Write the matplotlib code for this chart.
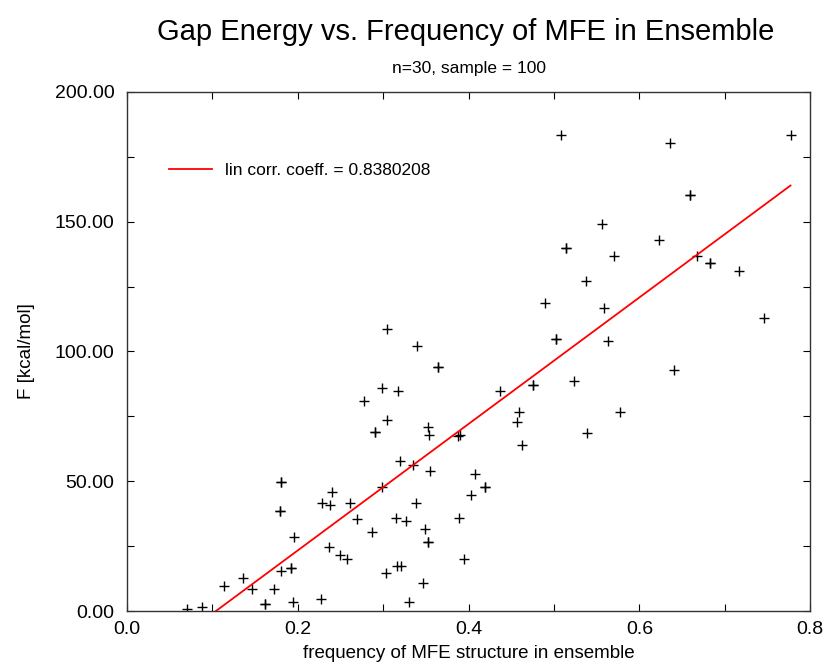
import matplotlib
matplotlib.use("Agg")
import matplotlib.pyplot as plt
from matplotlib.ticker import MultipleLocator, FormatStrFormatter

plt.rcParams['font.family'] = ['Liberation Sans', 'DejaVu Sans']

# frequency of MFE structure in ensemble (repeated values = overlapping samples)
freq = [0.070, 0.088, 0.113, 0.136, 0.146, 0.162, 0.162, 0.172, 0.180,
        0.180, 0.180, 0.179, 0.179, 0.192, 0.192, 0.194, 0.196,
        0.227, 0.236, 0.228, 0.238, 0.240, 0.249, 0.258, 0.261, 0.269,
        0.278, 0.287, 0.290, 0.290, 0.298, 0.299, 0.303, 0.305, 0.305,
        0.317, 0.320, 0.315, 0.316, 0.321, 0.327, 0.330, 0.335, 0.338,
        0.340, 0.347, 0.349, 0.352, 0.352, 0.353, 0.354, 0.355,
        0.364, 0.364, 0.388, 0.390, 0.389, 0.395, 0.403, 0.407,
        0.419, 0.419, 0.437, 0.457, 0.459, 0.463, 0.475, 0.475,
        0.502, 0.502, 0.563, 0.523, 0.641, 0.577, 0.539,
        0.508, 0.636, 0.777, 0.659, 0.659, 0.556, 0.514, 0.514,
        0.623, 0.570, 0.667, 0.683, 0.683, 0.717, 0.537, 0.489,
        0.558, 0.746]
# gap energy F [kcal/mol]
energy = [0.7, 1.7, 9.6, 12.6, 8.7, 2.8, 2.8, 8.7, 15.6,
          49.8, 49.8, 38.7, 38.7, 16.7, 16.7, 3.7, 28.7,
          4.8, 24.7, 41.7, 40.9, 45.7, 21.8, 19.9, 41.7, 35.5,
          80.9, 30.6, 68.8, 68.8, 85.9, 47.7, 14.7, 73.7, 108.8,
          84.9, 57.7, 35.8, 17.5, 17.5, 34.8, 3.7, 56.1, 41.7,
          102.0, 10.7, 31.7, 26.8, 26.8, 70.9, 67.8, 53.8,
          93.9, 93.9, 67.4, 67.8, 35.7, 19.9, 44.8, 52.7,
          47.7, 47.7, 84.9, 72.8, 76.8, 63.8, 86.9, 86.9,
          104.9, 104.9, 103.9, 88.7, 92.8, 76.8, 68.7,
          183.2, 180.1, 183.2, 160.1, 160.1, 149.0, 139.9, 139.9,
          143.1, 136.9, 136.9, 134.0, 134.0, 130.9, 127.0, 118.8,
          116.9, 112.9]

# linear fit
fit_slope = 243.5
fit_intercept = -25.3
corr_label = "lin corr. coeff. = 0.8380208"

fig = plt.figure(figsize=(8.25, 6.65), dpi=100)
ax = fig.add_axes([0.154, 0.081, 0.828, 0.781])

ax.plot(freq, energy, linestyle='none', marker='+', color='black',
        markersize=6.5, markeredgewidth=1.0)
xs = [min(freq), max(freq)]
ys = [fit_slope * x + fit_intercept for x in xs]
ax.plot(xs, ys, color='red', linewidth=1.3, label=corr_label)

ax.set_xlim(0.0, 0.8)
ax.set_ylim(0.0, 200.0)
ax.xaxis.set_major_locator(MultipleLocator(0.2))
ax.xaxis.set_minor_locator(MultipleLocator(0.1))
ax.yaxis.set_major_locator(MultipleLocator(50))
ax.yaxis.set_minor_locator(MultipleLocator(25))
ax.xaxis.set_major_formatter(FormatStrFormatter('%.1f'))
ax.yaxis.set_major_formatter(FormatStrFormatter('%.2f'))
ax.tick_params(which='both', direction='in', top=True, right=True, labelsize=14,
               width=0.8, length=5)
ax.tick_params(axis='x', which='both', pad=7)
ax.tick_params(axis='y', which='both', pad=9)
for s in ax.spines.values():
    s.set_linewidth(1.0)
    s.set_color('#333333')

ax.set_xlabel('frequency of MFE structure in ensemble', fontsize=13.5, labelpad=5)
ax.set_ylabel('F [kcal/mol]', fontsize=13.5, labelpad=14)

fig.text(0.564, 0.952, 'Gap Energy vs. Frequency of MFE in Ensemble', ha='center',
         va='center', fontsize=21)
fig.text(0.568, 0.897, 'n=30, sample = 100', ha='center', va='center', fontsize=12.5)

ax.legend(loc='upper left', bbox_to_anchor=(0.051, 0.877), frameon=False,
          fontsize=12.5, handlelength=2.5, handletextpad=0.75, borderaxespad=0)

fig.savefig('out.png', dpi=100)
